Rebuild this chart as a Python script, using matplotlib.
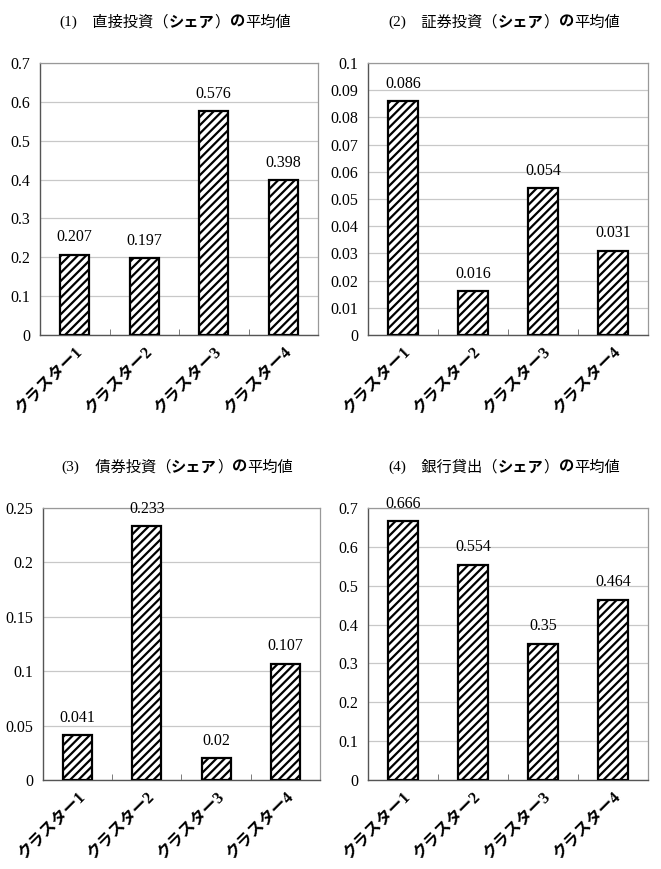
import matplotlib.pyplot as plt
import numpy as np

plt.rcParams['font.family'] = ['Liberation Serif', 'Noto Sans CJK JP']

clusters = ['クラスター1', 'クラスター2', 'クラスター3', 'クラスター4']
prefixes = ['(1)', '(2)', '(3)', '(4)']
subjects = ['直接投資', '証券投資', '債券投資', '銀行貸出']
fdi = [0.207, 0.197, 0.576, 0.398]
portfolio = [0.086, 0.016, 0.054, 0.031]
bonds = [0.041, 0.233, 0.02, 0.107]
loans = [0.666, 0.554, 0.35, 0.464]
series = [fdi, portfolio, bonds, loans]
ymax = [0.7, 0.1, 0.25, 0.7]
ystep = [0.1, 0.01, 0.05, 0.1]
labels = [['0.207', '0.197', '0.576', '0.398'],
          ['0.086', '0.016', '0.054', '0.031'],
          ['0.041', '0.233', '0.02', '0.107'],
          ['0.666', '0.554', '0.35', '0.464']]

fig = plt.figure(figsize=(6.61, 8.69), dpi=100)
W, H = 661, 869
# axes boxes in pixels: left, top, right, bottom
boxes = [(40, 63, 318, 335), (368, 63, 648, 335),
         (43, 508, 320, 780), (368, 508, 648, 780)]
plt.rcParams['hatch.linewidth'] = 1.6
renderer = fig.canvas.get_renderer()
jp = ['Noto Sans CJK JP']


def draw_title(cx, cy, i):
    segs = [(prefixes[i], 'normal', ['Liberation Serif']),
            ('　' + subjects[i] + '（', 'normal', jp),
            ('シェア', 'bold', jp),
            ('）', 'normal', jp),
            ('の', 'bold', jp),
            ('平均値', 'normal', jp)]
    texts = []
    for s, w, fam in segs:
        t = fig.text(0, cy / H, s, fontsize=11, fontweight=w, family=fam,
                     va='center', ha='left')
        texts.append(t)
    widths = [t.get_window_extent(renderer).width for t in texts]
    x = cx - sum(widths) / 2
    for t, w in zip(texts, widths):
        t.set_x(x / W)
        x += w


for i in range(4):
    l, t, r, b = boxes[i]
    ax = fig.add_axes([l / W, 1 - b / H, (r - l) / W, (b - t) / H])
    x = np.arange(4)
    ax.bar(x, series[i], width=0.42, color='white', edgecolor='black',
           hatch='////', linewidth=1.6, zorder=3)
    for xi, v, s in zip(x, series[i], labels[i]):
        ax.text(xi, v + ymax[i] * 0.035, s, ha='center', va='bottom',
                fontsize=11.5, clip_on=False, zorder=4)
    ax.set_xlim(-0.5, 3.5)
    ax.set_ylim(0, ymax[i])
    ticks = np.arange(0, ymax[i] + ystep[i] / 2, ystep[i])
    ax.set_yticks(ticks)
    ax.set_yticklabels(['0' if k == 0 else ('%g' % round(k, 3)) for k in ticks],
                       fontsize=11.5, family=['Liberation Serif'])
    ax.yaxis.grid(True, color='#c8c8c8', linewidth=0.9)
    ax.set_axisbelow(True)
    ax.tick_params(axis='y', length=0, pad=7)
    ax.set_xticks(x)
    ax.set_xticklabels(clusters, rotation=45, ha='right', rotation_mode='anchor',
                       fontsize=11.5, fontweight='bold',
                       family=['Liberation Serif', 'Noto Sans CJK JP'])
    ax.tick_params(axis='x', length=0, pad=6)
    ax.set_xticks([0.5, 1.5, 2.5], minor=True)
    ax.tick_params(axis='x', which='minor', direction='in', length=4, color='#666666')
    for side in ['top', 'right']:
        ax.spines[side].set_color('#999999')
        ax.spines[side].set_linewidth(0.9)
    for side in ['left', 'bottom']:
        ax.spines[side].set_color('#555555')
        ax.spines[side].set_linewidth(1.0)
    draw_title((l + r) / 2 - 4, H - (t - 41), i)

fig.savefig('out.png', dpi=100)
